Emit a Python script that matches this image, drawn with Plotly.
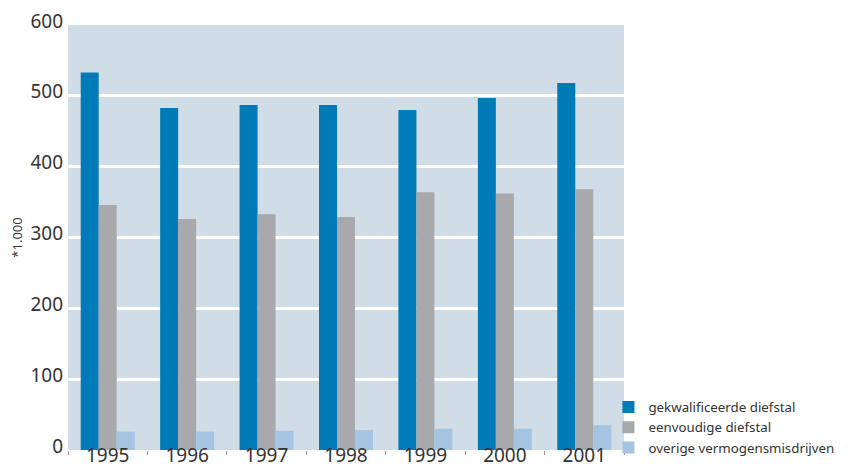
import plotly.graph_objects as go

years = ["1995", "1996", "1997", "1998", "1999", "2000", "2001"]
gekwalificeerde = [533, 483, 487, 487, 480, 497, 518]
eenvoudige = [346, 326, 333, 329, 364, 362, 368]
overige = [26, 26, 27, 28, 30, 30, 35]

names = ["gekwalificeerde diefstal", "eenvoudige diefstal", "overige vermogensmisdrijven"]
colors = ["#007bb8", "#a7a9ac", "#a4c4e2"]

fig = go.Figure()
for name, vals, col in zip(names, [gekwalificeerde, eenvoudige, overige], colors):
    fig.add_trace(go.Bar(x=years, y=vals, name=name, marker=dict(color=col, line=dict(width=0))))

font = "Noto Sans, Lato, sans-serif"
# page body has an 8px margin, so the figure is sized 840x460 to fit the 848x468 window
fig.update_layout(
    width=840, height=460,
    margin=dict(l=60, r=224, t=17, b=18, autoexpand=False),
    paper_bgcolor="white",
    plot_bgcolor="#d0dde6",
    barmode="group",
    bargap=0.32,
    bargroupgap=0,
    font=dict(family=font, color="#333333"),
    showlegend=True,
    legend=dict(
        x=0.972, xanchor="left", y=-0.03, yanchor="bottom",
        font=dict(size=13.3, color="#333333"),
        bgcolor="rgba(0,0,0,0)",
        traceorder="normal",
        itemsizing="constant",
        tracegroupgap=0,
    ),
    xaxis=dict(
        type="category", automargin=False,
        showgrid=False,
        ticks="outside", tickson="boundaries", ticklen=4, tickcolor="#999999",
        tickfont=dict(size=19, color="#333333"),
        ticklabelstandoff=-8, ticklabeloverflow="allow",
        showline=False, zeroline=False,
    ),
    yaxis=dict(
        automargin=False,
        range=[0, 600], tickvals=[0, 100, 200, 300, 400, 500, 600],
        showgrid=True, gridcolor="white", gridwidth=2.5,
        zeroline=False, showline=False,
        tickfont=dict(size=19, color="#333333"),
        ticks="", ticklabelshift=-4, ticklabelstandoff=4,
        ticklabeloverflow="allow",
        title=dict(text="*1.000", font=dict(size=13, color="#333333"), standoff=4),
    ),
)

fig.write_html("out.html")
